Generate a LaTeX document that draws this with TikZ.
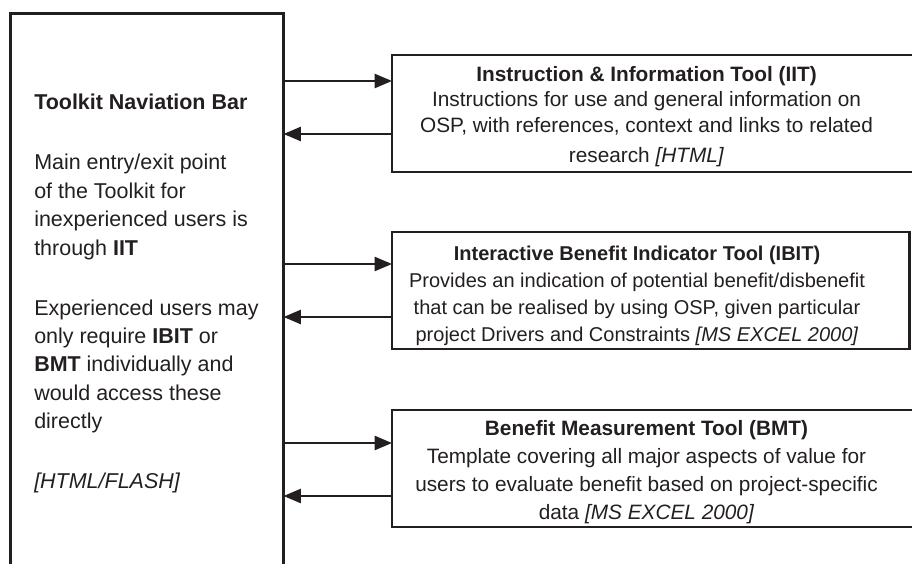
\documentclass[tikz,border=0pt]{standalone}
\usepackage{fontspec}
\setmainfont{Liberation Sans}
\usetikzlibrary{arrows.meta}
\definecolor{ink}{RGB}{35,31,32}
\begin{document}
\begin{tikzpicture}[x=0.75pt,y=-0.75pt,
  frame/.style={draw=ink, line width=1.8pt, outer sep=0pt, inner sep=0pt, anchor=north west},
  link/.style={draw=ink, line width=1.7pt, -{Triangle[length=13pt,width=10.5pt]}},
  sidetext/.style={text=ink, inner sep=0pt, anchor=north west, align=left,
    font=\fontsize{16.1pt}{21.3pt}\selectfont},
  tooltext/.style={text=ink, inner sep=0pt, anchor=north, align=center}]
\clip (0,0) rectangle (912,563);

% navigation bar (runs off the lower edge) and the three tool boxes
\node[frame, minimum width=204.75pt, minimum height=425pt] (nav) at (10.5,13.5) {};
\node[frame, minimum width=393pt, minimum height=87.75pt] (iit) at (392,55) {};
\node[frame, minimum width=388.1pt, minimum height=87.75pt] (ibit) at (392,232) {};
\node[frame, minimum width=393pt, minimum height=87.75pt] (bmt) at (392,410) {};

% texts
\node[sidetext] (navtext) at (34,94) {\textbf{Toolkit Naviation Bar}\\[23.7pt]
  Main entry/exit point\\ of the Toolkit for\\ inexperienced users is\\
  through \textbf{IIT}\\[23.7pt]
  Experienced users may\\ only require \textbf{IBIT} or\\
  \textbf{BMT} individually and\\ would access these\\ directly\\[23.7pt]
  \textit{[HTML/FLASH]}};

\node[tooltext, font=\fontsize{15.6pt}{19.1pt}\selectfont] (iittext) at (646.5,66)
  {\textbf{Instruction \& Information Tool (IIT)}\\
   Instructions for use and general information on\\
   OSP, with references, context and links to related\\[3.4pt]
   research \textit{[HTML]}};

\node[tooltext, font=\fontsize{15pt}{20.4pt}\selectfont] (ibittext) at (637,245.3)
  {\textbf{Interactive Benefit Indicator Tool (IBIT)}\\
   Provides an indication of potential benefit/disbenefit\\
   that can be realised by using OSP, given particular\\
   project Drivers and Constraints \textit{[MS EXCEL 2000]}};

\node[tooltext, font=\fontsize{15.6pt}{21pt}\selectfont] (bmttext) at (646.5,420.5)
  {\textbf{Benefit Measurement Tool (BMT)}\\
   Template covering all major aspects of value for\\
   users to evaluate benefit based on project-specific\\
   data \textit{[MS EXCEL 2000]}};

% connectors: out to each tool and back to the bar
\coordinate (iit-in) at (392,81);
\coordinate (iit-out) at (392,134);
\coordinate (ibit-in) at (392,264);
\coordinate (ibit-out) at (392,317);
\coordinate (bmt-in) at (392,443);
\coordinate (bmt-out) at (392,496);

\draw[link] (nav.east |- iit-in) -- (iit-in);
\draw[link] (iit-out) -- (nav.east |- iit-out);
\draw[link] (nav.east |- ibit-in) -- (ibit-in);
\draw[link] (ibit-out) -- (nav.east |- ibit-out);
\draw[link] (nav.east |- bmt-in) -- (bmt-in);
\draw[link] (bmt-out) -- (nav.east |- bmt-out);
\end{tikzpicture}
\end{document}
